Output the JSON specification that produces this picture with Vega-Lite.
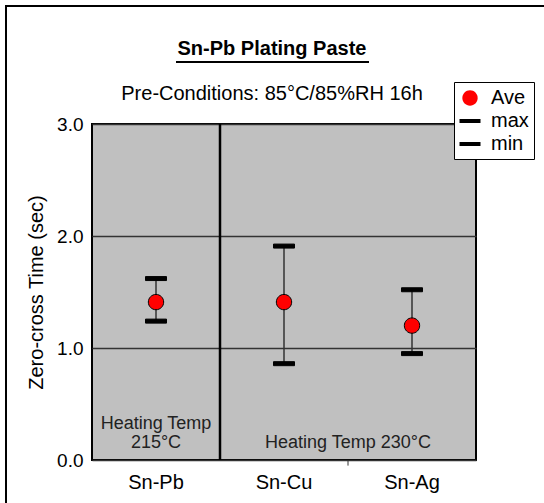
{
  "$schema": "https://vega.github.io/schema/vega-lite/v6.json",
  "width": 384,
  "height": 336,
  "autosize": "none",
  "padding": {"left": 92, "top": 124, "right": 68, "bottom": 43},
  "background": "white",
  "config": {
    "font": "Liberation Sans",
    "view": {"fill": "#c0c0c0", "stroke": "black", "strokeWidth": 2}
  },
  "title": {
    "text": "Sn-Pb Plating Paste",
    "subtitle": "Pre-Conditions: 85°C/85%RH 16h",
    "font": "Liberation Sans",
    "fontSize": 20,
    "fontWeight": "bold",
    "color": "black",
    "subtitleFont": "Liberation Sans",
    "subtitleFontSize": 20,
    "subtitleFontWeight": "normal",
    "subtitleColor": "black",
    "anchor": "middle",
    "dx": -12,
    "offset": -99,
    "subtitlePadding": 25
  },
  "data": {
    "values": [
      {"alloy": "Sn-Pb", "Ave": 1.41, "max": 1.62, "min": 1.24},
      {"alloy": "Sn-Cu", "Ave": 1.41, "max": 1.91, "min": 0.86},
      {"alloy": "Sn-Ag", "Ave": 1.2, "max": 1.52, "min": 0.95}
    ]
  },
  "layer": [
    {
      "data": {"values": [{}]},
      "mark": {"type": "rect", "fill": "transparent", "stroke": "black", "strokeWidth": 2},
      "encoding": {
        "x": {"value": -86},
        "y": {"value": -118},
        "x2": {"value": 600},
        "y2": {"value": 500}
      }
    },
    {
      "mark": {"type": "rule", "stroke": "#333333", "strokeWidth": 1.5},
      "encoding": {
        "x": {
          "field": "alloy",
          "type": "nominal",
          "scale": {"type": "band", "domain": ["Sn-Pb", "Sn-Cu", "Sn-Ag"], "paddingInner": 0, "paddingOuter": 0},
          "axis": {"title": null, "labelFontSize": 20, "labelFontWeight": "normal", "labelColor": "black", "ticks": false, "domain": false, "labelPadding": 12, "labelAngle": 0}
        },
        "y": {
          "field": "min",
          "type": "quantitative",
          "scale": {"domain": [0, 3], "nice": false},
          "axis": {
            "title": "Zero-cross Time (sec)",
            "values": [0, 1, 2, 3],
            "format": ".1f",
            "labelFontSize": 19,
            "labelFontWeight": "normal",
            "labelColor": "black",
            "titleFontSize": 20,
            "titleFontWeight": "normal",
            "titleColor": "black",
            "ticks": false,
            "domain": false,
            "labelPadding": 9,
            "titlePadding": 10,
            "grid": true,
            "gridColor": "#333333",
            "gridWidth": 1.5
          }
        },
        "y2": {"field": "max"}
      }
    },
    {
      "data": {"values": [{}]},
      "mark": {"type": "rule", "stroke": "black", "strokeWidth": 2.5},
      "encoding": {
        "x": {"datum": "Sn-Pb", "type": "nominal", "bandPosition": 1}
      }
    },
    {
      "transform": [{"fold": ["Ave", "max", "min"], "as": ["stat", "val"]}],
      "mark": {"type": "point", "filled": true, "stroke": "black", "strokeWidth": 1, "size": 441, "opacity": 1},
      "encoding": {
        "x": {"field": "alloy", "type": "nominal"},
        "y": {"field": "val", "type": "quantitative"},
        "shape": {
          "field": "stat",
          "type": "nominal",
          "scale": {
            "domain": ["Ave", "max", "min"],
            "range": [
              "M0.73,0A0.73,0.73 0 1,1 -0.73,0A0.73,0.73 0 1,1 0.73,0Z",
              "M-1,-0.19H1V0.19H-1Z",
              "M-1,-0.19H1V0.19H-1Z"
            ]
          },
          "legend": {
            "title": null, "orient": "none", "legendX": 362, "legendY": -42,
            "fillColor": "white", "strokeColor": "black", "padding": 5,
            "labelFontSize": 20, "labelColor": "black", "symbolSize": 441,
            "symbolStrokeColor": "black", "symbolStrokeWidth": 1, "rowPadding": 2, "labelOffset": 10
          }
        },
        "fill": {
          "field": "stat",
          "type": "nominal",
          "scale": {"domain": ["Ave", "max", "min"], "range": ["#ff0000", "#000000", "#000000"]},
          "legend": {
            "title": null, "orient": "none", "legendX": 362, "legendY": -42,
            "fillColor": "white", "strokeColor": "black", "padding": 5,
            "labelFontSize": 20, "labelColor": "black", "symbolSize": 441,
            "symbolStrokeColor": "black", "symbolStrokeWidth": 1, "rowPadding": 2, "labelOffset": 10
          }
        }
      }
    },
    {
      "data": {"values": [{}]},
      "mark": {"type": "text", "fontSize": 18, "baseline": "middle", "align": "center", "color": "#222222"},
      "encoding": {
        "x": {"datum": "Sn-Pb", "type": "nominal"},
        "y": {"datum": 0.32, "type": "quantitative"},
        "text": {"value": "Heating Temp"}
      }
    },
    {
      "data": {"values": [{}]},
      "mark": {"type": "text", "fontSize": 18, "baseline": "middle", "align": "center", "color": "#222222"},
      "encoding": {
        "x": {"datum": "Sn-Pb", "type": "nominal"},
        "y": {"datum": 0.15, "type": "quantitative"},
        "text": {"value": "215°C"}
      }
    },
    {
      "data": {"values": [{}]},
      "mark": {"type": "text", "fontSize": 18, "baseline": "middle", "align": "center", "color": "#222222"},
      "encoding": {
        "x": {"datum": "Sn-Ag", "type": "nominal", "bandPosition": 0},
        "y": {"datum": 0.15, "type": "quantitative"},
        "text": {"value": "Heating Temp 230°C"}
      }
    },
    {
      "data": {"values": [{}]},
      "mark": {"type": "rule", "stroke": "#333333", "strokeWidth": 1},
      "encoding": {
        "x": {"datum": "Sn-Ag", "type": "nominal", "bandPosition": 0},
        "y": {"datum": 0, "type": "quantitative"},
        "y2": {"datum": -0.05}
      }
    },
    {
      "data": {"values": [{}]},
      "mark": {"type": "rule", "stroke": "black", "strokeWidth": 2},
      "encoding": {
        "x": {"value": 84},
        "x2": {"value": 277},
        "y": {"value": -62}
      }
    }
  ]
}
